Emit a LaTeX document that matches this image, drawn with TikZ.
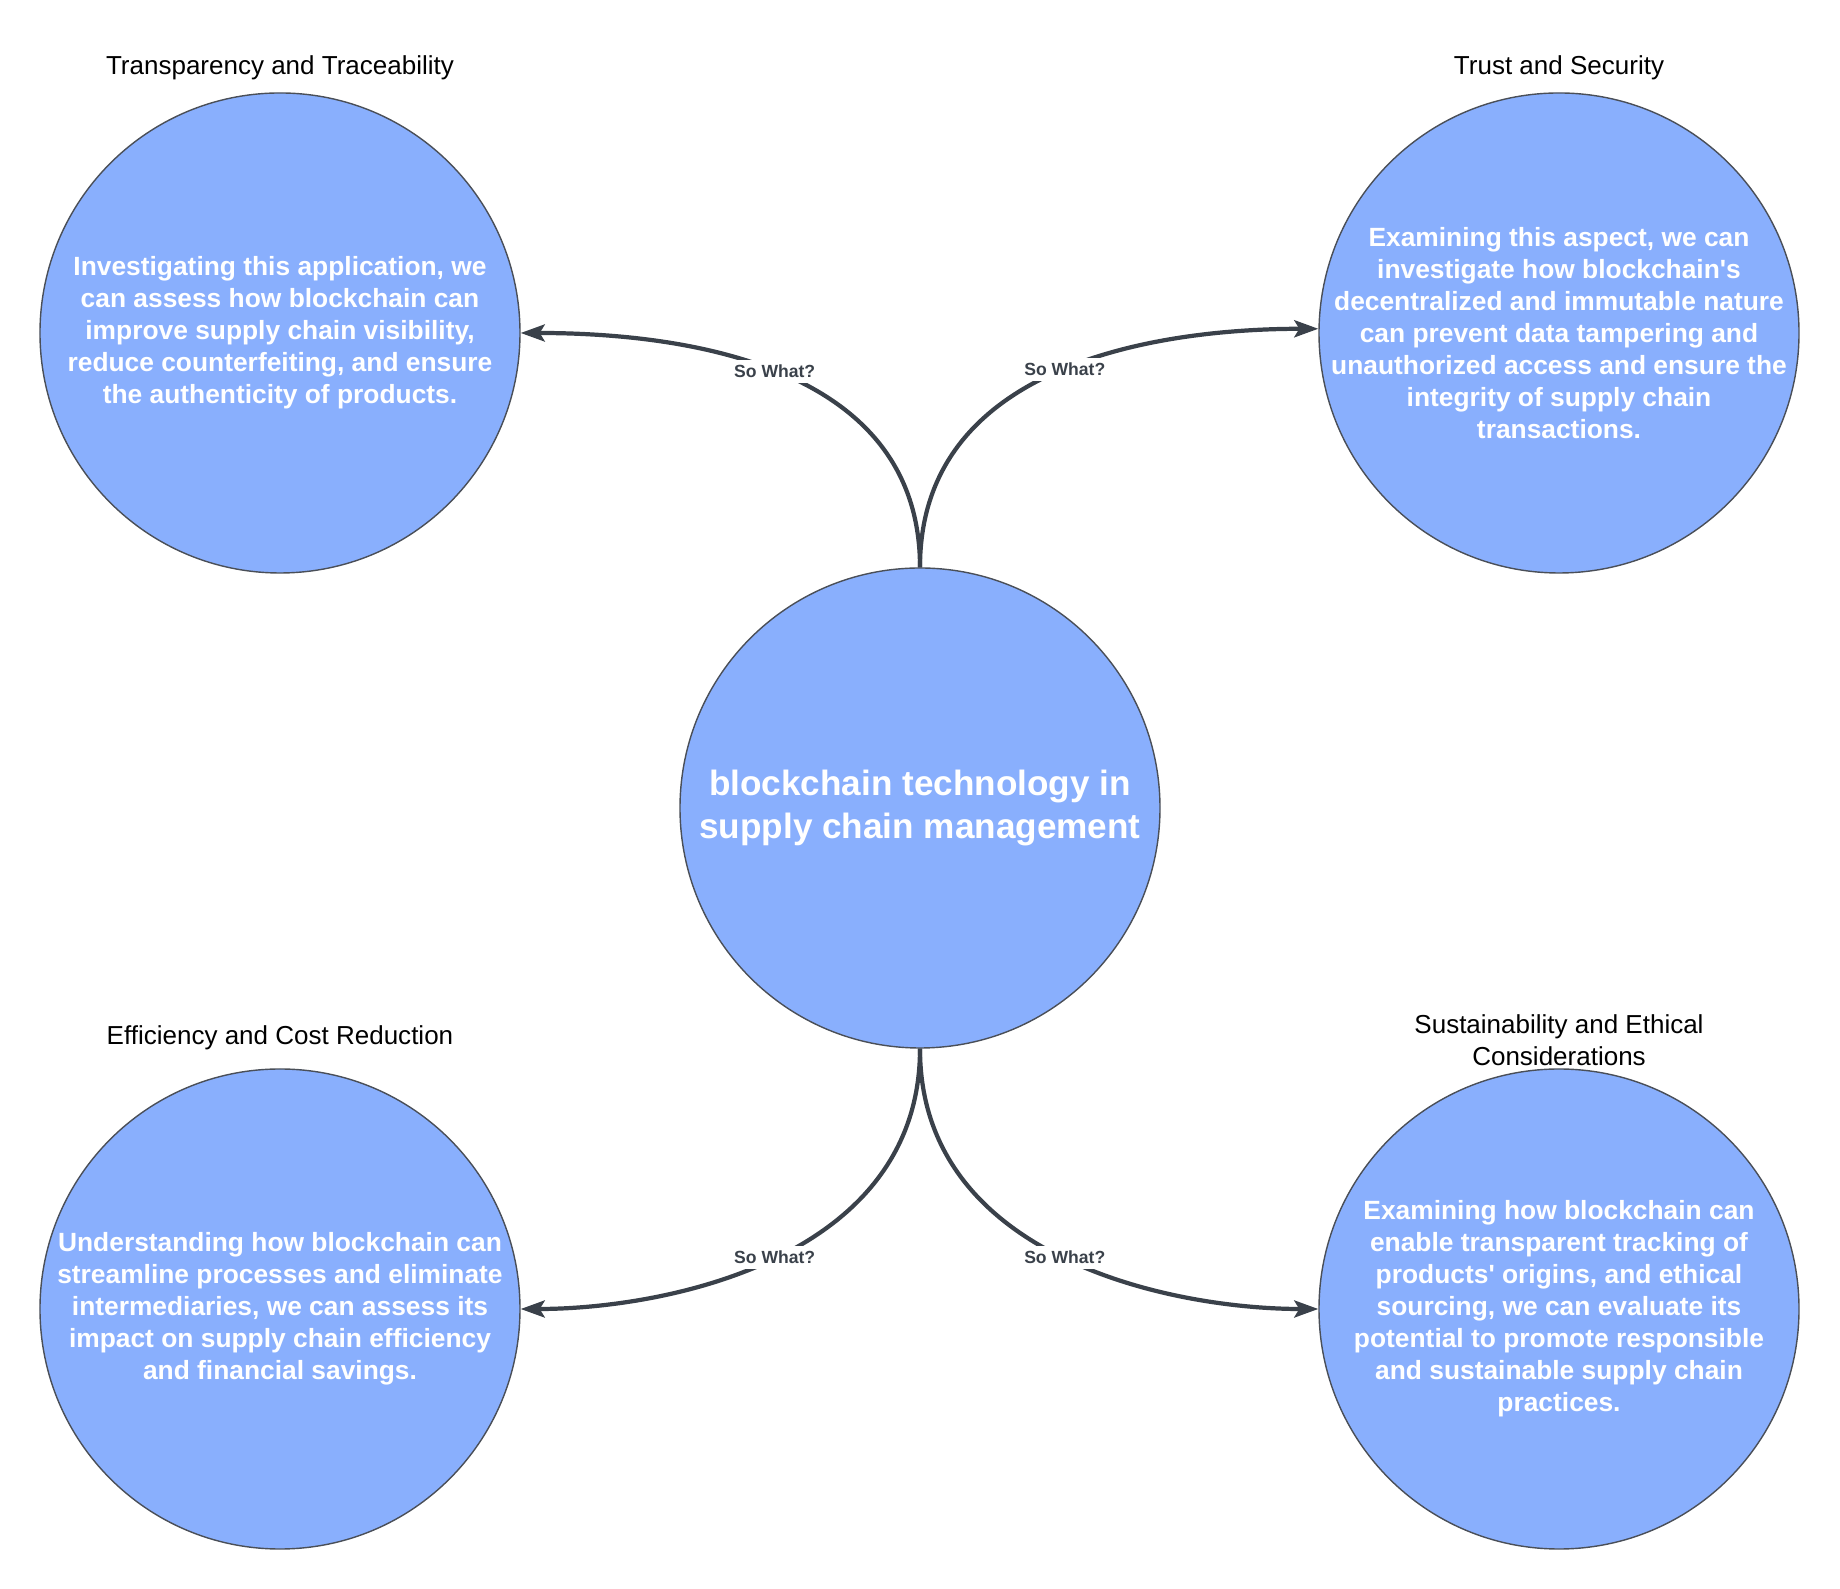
\documentclass[tikz,border=0pt]{standalone}
\usepackage{fontspec}
\setmainfont{Liberation Sans}
\usepackage{tikz}
\usetikzlibrary{arrows.meta, positioning}
\definecolor{ChainBlue}{HTML}{89AFFD}
\definecolor{ChainLine}{HTML}{3A414A}
\definecolor{ChainBorder}{HTML}{4A4F58}
\definecolor{ChainWhite}{HTML}{FFFFFF}
\definecolor{ChainBlack}{HTML}{000000}
\tikzset{
    topic/.style={
        circle,
        draw=ChainBorder,
        line width=0.4pt,
        fill=ChainBlue,
        minimum size=4.8cm,
        inner sep=-4mm,
        text=ChainWhite,
        font=\fontsize{7.5}{9.1}\selectfont\bfseries,
        align=center
    },
    hub/.style={
        topic,
        font=\fontsize{10}{12.2}\selectfont\bfseries
    },
    heading/.style={
        text=ChainBlack,
        font=\fontsize{7.4}{9.1}\selectfont,
        align=center,
        inner sep=0pt
    },
    arrow/.style={
        -{Stealth[length=2.4mm, width=1.7mm, inset=0.5mm]},
        line width=1.2pt,
        ChainLine
    },
    sowhat/.style={
        fill=ChainWhite,
        text=ChainLine,
        font=\fontsize{5}{6}\selectfont\bfseries,
        inner sep=1.5pt
    }
}

\begin{document}
\begin{tikzpicture}
    \useasboundingbox (-9.20,-7.81) rectangle (9.20,8.08);

    \node[hub] (hub) at (0,0) {blockchain technology in\\supply chain management};

    \node[topic] (trace) at (-6.40,4.75) {Investigating this application, we\\can assess how blockchain can\\improve supply chain visibility,\\reduce counterfeiting, and ensure\\the authenticity of products.};
    \node[topic] (trust) at (6.39,4.75) {Examining this aspect, we can\\investigate how blockchain\textquotesingle s\\decentralized and immutable nature\\can prevent data tampering and\\unauthorized access and ensure the\\integrity of supply chain\\transactions.};
    \node[topic] (cost) at (-6.40,-5.01) {Understanding how blockchain can\\streamline processes and eliminate\\intermediaries, we can assess its\\impact on supply chain efficiency\\and financial savings.};
    \node[topic] (ethic) at (6.39,-5.01) {Examining how blockchain can\\enable transparent tracking of\\products\textquotesingle{} origins, and ethical\\sourcing, we can evaluate its\\potential to promote responsible\\and sustainable supply chain\\practices.};

    \node[heading] (tracehead) at ([yshift=2.4mm]trace.north) {Transparency and Traceability};
    \node[heading] (trusthead) at ([yshift=2.4mm]trust.north) {Trust and Security};
    \node[heading] (costhead) at ([yshift=3.1mm]cost.north) {Efficiency and Cost Reduction};
    \node[heading] (ethichead) at ([yshift=2.85mm]ethic.north) {Sustainability and Ethical\\Considerations};

    \draw[arrow] (hub.north) .. controls +(0,2.1) and +(1.45,0) .. node[sowhat] {So What?} (trace.east);
    \draw[arrow] (hub.north) .. controls +(0,2.1) and +(-1.45,0) .. node[sowhat] {So What?} (trust.179);
    \draw[arrow] (hub.south) .. controls +(0,-2.1) and +(1.45,0) .. node[sowhat] {So What?} (cost.east);
    \draw[arrow] (hub.south) .. controls +(0,-2.1) and +(-1.45,0) .. node[sowhat] {So What?} (ethic.west);
\end{tikzpicture}
\end{document}
